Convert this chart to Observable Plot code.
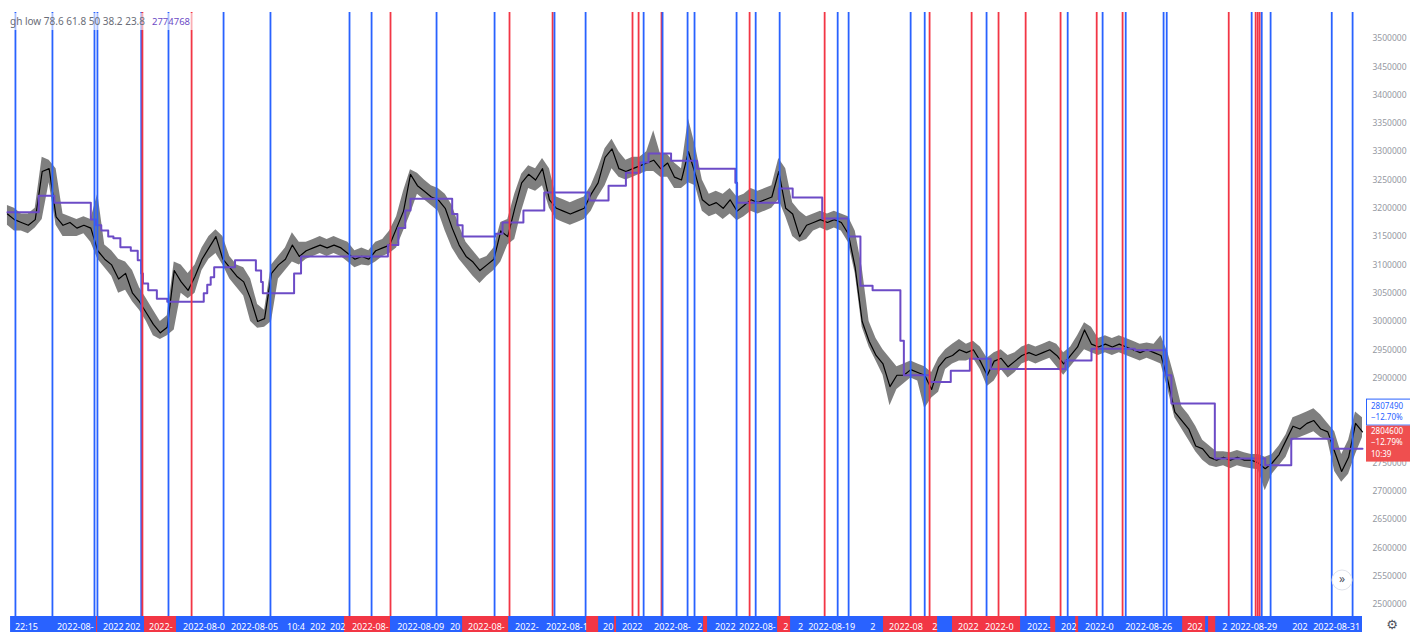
<!DOCTYPE html>
<html><head><meta charset="utf-8">
<script src="https://cdn.jsdelivr.net/npm/d3@7"></script>
<script src="https://cdn.jsdelivr.net/npm/@observablehq/plot@0.6"></script>
<style>
html,body{margin:0;padding:0;background:#fff;}
#chart{position:relative;width:1410px;height:632px;overflow:hidden;}
</style></head><body><div id="chart"></div>
<script>
// ---------- data ----------
const startTime = "2022-07-30T00:00:00Z";
const endHours = 784;
const barHours = 4;
// close / high / low per 4h bar (thousands KRW)
const closeK = [
3190,3180,3175,3170,3180,3265,3270,3185,3170,3175,
3165,3170,3165,3125,3110,3100,3075,3085,3050,3035,
3015,2995,2980,2990,3090,3070,3055,3080,3110,3130,
3150,3110,3095,3080,3070,3040,3000,3005,3085,3100,
3110,3135,3115,3125,3130,3135,3130,3135,3130,3120,
3110,3115,3110,3125,3130,3135,3165,3195,3260,3240,
3230,3220,3215,3200,3165,3135,3115,3105,3090,3100,
3110,3160,3150,3200,3245,3260,3250,3270,3215,3200,
3195,3190,3195,3200,3225,3245,3290,3305,3270,3265,
3270,3275,3280,3285,3270,3280,3255,3250,3300,3260,
3215,3205,3210,3200,3215,3195,3205,3215,3210,3215,
3220,3265,3200,3190,3150,3170,3175,3180,3175,3180,
3175,3155,3095,3000,2965,2940,2925,2885,2905,2905,
2915,2910,2905,2880,2920,2935,2940,2950,2945,2950,
2930,2905,2930,2935,2920,2930,2940,2945,2940,2945,
2950,2940,2925,2940,2955,2985,2960,2955,2960,2955,
2960,2955,2950,2945,2950,2945,2940,2895,2840,2825,
2810,2780,2775,2760,2755,2760,2755,2760,2755,2755,
2750,2740,2750,2765,2790,2815,2810,2820,2825,2810,
2805,2770,2735,2760,2820,2805
];
const highK = [
3205,3200,3190,3190,3200,3290,3285,3270,3190,3185,
3180,3185,3180,3226,3135,3125,3110,3105,3090,3060,
3040,3020,3000,3010,3105,3100,3085,3100,3130,3150,
3162,3150,3115,3100,3095,3075,3030,3020,3100,3115,
3130,3157,3140,3140,3145,3150,3145,3150,3145,3140,
3125,3130,3125,3140,3145,3160,3185,3230,3268,3262,
3250,3240,3235,3225,3205,3170,3140,3125,3110,3115,
3130,3175,3180,3225,3260,3275,3270,3288,3270,3220,
3215,3210,3215,3220,3240,3270,3305,3322,3300,3285,
3290,3290,3300,3337,3295,3295,3280,3270,3358,3310,
3250,3225,3230,3225,3235,3220,3225,3235,3230,3235,
3240,3288,3270,3210,3195,3185,3190,3195,3190,3195,
3190,3185,3160,3095,3000,2970,2950,2935,2920,2925,
2930,2925,2920,2910,2935,2950,2960,2968,2960,2965,
2955,2935,2945,2950,2940,2945,2955,2960,2955,2960,
2965,2960,2945,2955,2975,2998,2990,2970,2975,2970,
2975,2970,2965,2960,2962,2960,2975,2945,2900,2850,
2835,2815,2790,2780,2770,2770,2768,2772,2768,2765,
2765,2760,2765,2780,2800,2830,2835,2840,2846,2835,
2820,2805,2765,2790,2840,2830
];
const lowK = [
3170,3160,3160,3155,3165,3180,3245,3170,3150,3150,
3150,3155,3140,3110,3095,3080,3050,3055,3035,3020,
3000,2975,2968,2975,2985,3050,3040,3050,3090,3110,
3120,3100,3075,3060,3045,3000,2988,2990,3000,3075,
3090,3105,3100,3110,3115,3120,3115,3120,3115,3105,
3095,3100,3098,3105,3115,3120,3130,3160,3190,3225,
3215,3205,3195,3160,3130,3110,3095,3080,3067,3080,
3090,3105,3135,3145,3195,3235,3230,3240,3200,3180,
3175,3170,3175,3180,3195,3220,3240,3270,3255,3250,
3255,3260,3265,3265,3255,3255,3235,3235,3245,3240,
3195,3185,3190,3180,3190,3178,3185,3195,3190,3195,
3200,3215,3185,3150,3140,3145,3160,3165,3160,3165,
3160,3140,3085,2990,2955,2930,2905,2851,2880,2890,
2900,2895,2846,2865,2875,2915,2925,2930,2930,2935,
2915,2885,2895,2915,2900,2910,2925,2930,2925,2930,
2935,2920,2905,2920,2935,2950,2945,2940,2945,2940,
2945,2940,2935,2930,2935,2930,2925,2880,2830,2810,
2790,2770,2755,2745,2742,2745,2740,2745,2742,2740,
2738,2701,2730,2745,2760,2790,2795,2800,2805,2795,
2790,2735,2716,2730,2765,2795
];
// purple channel-mid step line: change times (hours from start) and values (thousands)
const purpleHours = [4,22,31,52,55,58,62,65,69,75,79,81,82,85,90,96,117,119,121,123,135,147,150,151,169,173,
  223,229,233,236,260,263,266,285,289,301,313,339,350,360,368,373,386,401,423,424,448,456,473,488,495,502,
  518,520,535,547,558,570,613,628,653,671,674,699,728,743,767,784];
const purpleK = [3193,3222,3210,3180,3170,3161,3150,3147,3131,3125,3108,3085,3067,3055,3040,3035,3050,3065,3078,3096,3108,3090,3070,3050,3085,3115,
  3135,3165,3196,3217,3190,3170,3150,3155,3175,3196,3228,3214,3240,3263,3281,3297,3284,3270,3245,3210,3235,3219,3182,3150,3063,3055,
  2966,2905,2893,2913,2934,2916,2931,2952,2949,2905,2855,2758,2746,2793,2775,2775];
// vertical marker lines: time (hours from start) and colour
const lineHours = [8.6,29.9,54.1,55.8,81.0,81.7,96.7,110,128.4,155.4,200.9,213.6,224.5,251,284.4,293,317.8,318.9,336.8,
  363.8,367.3,370.2,380.5,381.1,395.5,399.5,423.7,431.2,434.7,448.5,474.4,481.9,488.2,523.9,532,534.8,559,567.6,574.5,
  590.1,610.2,614.3,631,634.4,645.9,647.7,669.5,671.3,707,720.2,722.5,723.7,724.8,726,731.1,766.3,778.3];
const lineKinds = ["B","B","B","B","B","R","B","R","B","B","B","B","R","B","B","R","R","B","B",
  "R","R","B","R","B","B","B","B","R","B","B","R","B","B","B","B","R","R","B","R",
  "R","R","B","R","B","R","B","B","B","R","B","R","R","R","B","B","B","B"];
// time-axis label strip
const stripStart = 5.8;
const redStart = [55.3,82.9,198,266,337.4,353.5,404.7,447.3,508.3,548,604.5,618.9,680.5,695.4];
const redEnd   = [55.9,101.3,224.5,292.5,344.3,354.6,407,454.8,539.4,587.2,607.4,620.6,693.7,699.5];
const stripLabelHours = [8.6,32.8,59.3,72,85.8,105.4,133,165.2,178.5,190,202.6,228.6,259,269.4,296.5,314.3,347.1,358,376.5,
  401.3,411.6,425.4,450.8,459.4,465.2,500.9,511.8,536.6,551.5,567,591.2,610.8,624.6,647.7,683.4,703.5,708.1,743.8,755.9];
const stripLabels = ["22:15","2022-08-","2022","202","2022-","2022-08-0","2022-08-05","10:4","202","202","2022-08-","2022-08-09","20","2022-08-",
  "2022-","2022-08-1","20","2022","2022-08-","2","2022","2022-08-","2","2","2022-08-19","2","2022-08","2","2022","2022-0","2022-",
  "202","2022-0","2022-08-26","202","2","2022-08-29","202","2022-08-31"];
const yTicks = [2500000,2550000,2600000,2650000,2700000,2750000,2800000,2850000,2900000,2950000,3000000,
  3050000,3100000,3150000,3200000,3250000,3300000,3350000,3400000,3450000,3500000];
const legendText = "gh low 78.6 61.8 50 38.2 23.8";
const legendValue = "2774768";
const markPrice = 2807490, markChange = "\u221212.70%";
const lastPrice = 2804600, lastChange = "\u221212.79%", countdown = "10:39";

// ---------- styles / layout ----------
const BLUE = "#2962ff", RED = "#f23645", PURPLE = "#6c4bc6", GREY = "#9598a1";
const FONT = "'Noto Sans', sans-serif";
const W = 1410, H = 632, MT = 12, MB = 16, MR = 48;
const yDomain = [2478800, 3545937];

const t0 = new Date(startTime);
const toDate = h => new Date(+t0 + h * 3600e3);
const bars = closeK.map((v, i) => ({t: toDate((i + 1) * barHours), c: v * 1000, h: highK[i] * 1000, l: lowK[i] * 1000}));
const purple = purpleHours.map((h, i) => ({t: toDate(h), p: purpleK[i] * 1000}));
const vlines = lineHours.map((h, i) => ({t: toDate(h), c: lineKinds[i] === "R" ? RED : BLUE}));

// price-label boxes sit over the right scale and hide the tick labels beneath them
const yPre = Plot.scale({y: {domain: yDomain, range: [H - MB, MT]}});
const lh = 11.6;
const redTop = yPre.apply(lastPrice) - 6;
const redH = 36;
const blueBottom = Math.min(yPre.apply(markPrice) + 13, redTop);
const blueTop = blueBottom - 27;
const shownTicks = yTicks.filter(v => { const y = yPre.apply(v); return y < blueTop - 5 || y > redTop + redH - 6; });

const chart = Plot.plot({
  width: W, height: H,
  marginTop: MT, marginBottom: MB, marginLeft: 0, marginRight: MR,
  style: {background: "#fff", fontFamily: FONT, fontSize: "8.5px", color: GREY, overflow: "visible"},
  x: {type: "utc", domain: [t0, toDate(endHours)], axis: null},
  y: {domain: yDomain, axis: "right", ticks: shownTicks, tickSize: 0, tickPadding: 10, tickFormat: "d", label: null},
  marks: [
    Plot.areaY(bars, {x: "t", y1: "l", y2: "h", fill: "#2a2a2a", fillOpacity: 0.6, curve: "linear"}),
    Plot.line(bars, {x: "t", y: "c", stroke: "#000", strokeWidth: 1.2}),
    Plot.line(purple, {x: "t", y: "p", curve: "step-after", stroke: PURPLE, strokeWidth: 2}),
    Plot.ruleX(vlines, {x: "t", stroke: "c", strokeWidth: 1.8})
  ]
});
document.getElementById("chart").appendChild(chart);

const svg = d3.select(chart);
const xs = chart.scale("x");
const X = h => xs.apply(toDate(h));

// legend (top-left) with translucent backing
const lg = svg.append("g").attr("text-anchor", "start").attr("font-family", FONT).attr("font-size", 10);
lg.append("rect").attr("x", 8).attr("y", 13).attr("width", 185).attr("height", 17).attr("fill", "#fff").attr("opacity", 0.6);
lg.append("text").attr("x", 10).attr("y", 25).attr("fill", "#6a6d78").text(legendText);
lg.append("text").attr("x", 152).attr("y", 25).attr("font-size", 9.5).attr("fill", PURPLE).text(legendValue);

// time-axis strip
const strip = svg.append("g").attr("text-anchor", "start");
const stripTop = H - MB;
strip.append("rect").attr("x", X(stripStart)).attr("y", stripTop).attr("width", X(endHours) - X(stripStart)).attr("height", MB).attr("fill", BLUE);
redStart.forEach((s, i) => strip.append("rect").attr("x", X(s)).attr("y", stripTop)
  .attr("width", Math.max(1, X(redEnd[i]) - X(s))).attr("height", MB).attr("fill", RED));
stripLabels.forEach((s, i) => strip.append("text").attr("x", X(stripLabelHours[i])).attr("y", stripTop + 12)
  .attr("dominant-baseline", "middle").attr("font-family", FONT).attr("font-size", 9).attr("fill", "#fff").text(s));

// price labels on the right scale
const px0 = W - MR + 4, pw = 44;
const pl = svg.append("g").attr("font-family", FONT).attr("font-size", 8).attr("text-anchor", "start");
pl.append("rect").attr("x", px0 + 0.5).attr("y", blueTop + 0.5).attr("width", pw).attr("height", 26)
  .attr("fill", "#fff").attr("stroke", BLUE);
pl.append("text").attr("x", px0 + 5).attr("y", blueTop + 8).attr("dominant-baseline", "middle").attr("fill", BLUE).text(markPrice);
pl.append("text").attr("x", px0 + 5).attr("y", blueTop + 8 + lh).attr("dominant-baseline", "middle").attr("fill", BLUE).text(markChange);
pl.append("rect").attr("x", px0).attr("y", redTop).attr("width", pw + 1).attr("height", redH).attr("fill", "#ef4f4f");
pl.append("text").attr("x", px0 + 5).attr("y", redTop + 6).attr("dominant-baseline", "middle").attr("fill", "#fff").text(lastPrice);
pl.append("text").attr("x", px0 + 5).attr("y", redTop + 6 + lh).attr("dominant-baseline", "middle").attr("fill", "#fff").text(lastChange);
pl.append("text").attr("x", px0 + 5).attr("y", redTop + 6 + 2 * lh).attr("dominant-baseline", "middle").attr("fill", "#fff").text(countdown);

// scroll button and settings icon
const ui = svg.append("g").attr("text-anchor", "middle");
ui.append("circle").attr("cx", 1342).attr("cy", 580).attr("r", 10).attr("fill", "#fff").attr("stroke", "#e0e3eb");
ui.append("text").attr("x", 1342).attr("y", 580).attr("dominant-baseline", "middle")
  .attr("font-family", FONT).attr("font-size", 12).attr("fill", "#50535e").text("\u00bb");
ui.append("text").attr("x", 1392).attr("y", 625).attr("dominant-baseline", "middle")
  .attr("font-family", "DejaVu Sans").attr("font-size", 13).attr("fill", "#50535e").text("\u2699");
</script></body></html>
